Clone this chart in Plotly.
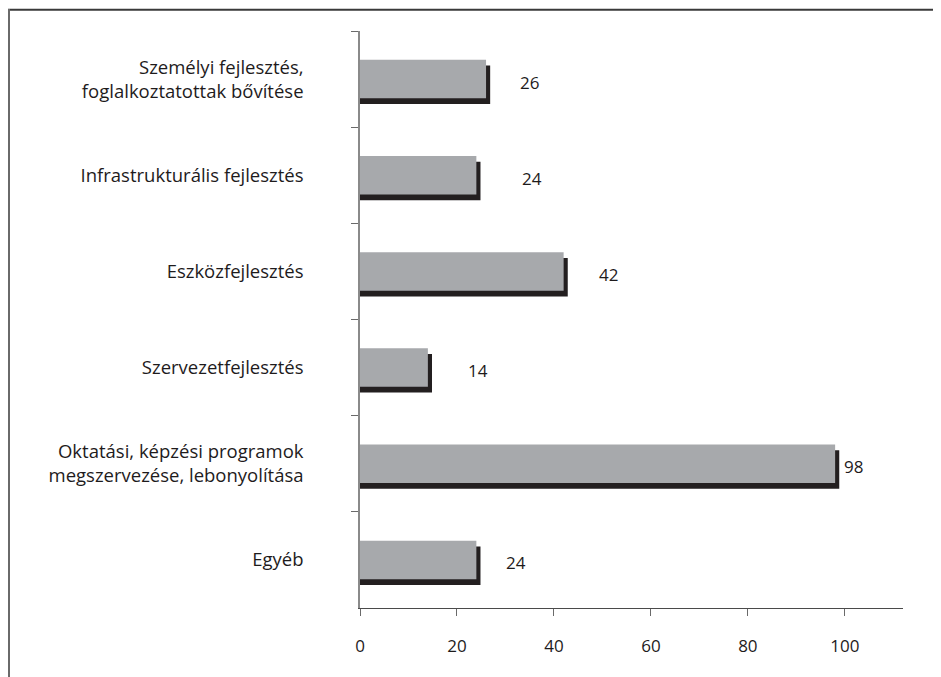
import plotly.graph_objects as go

# kategóriák és értékek
kategoriak = [
    'Személyi fejlesztés,<br>foglalkoztatottak bővítése',
    'Infrastrukturális fejlesztés',
    'Eszközfejlesztés',
    'Szervezetfejlesztés',
    'Oktatási, képzési programok<br>megszervezése, lebonyolítása',
    'Egyéb',
]
ertekek = [26, 24, 42, 14, 98, 24]
tick_ertekek = [0, 20, 40, 60, 80, 100]

FONT = 'Open Sans'
SZURKE = '#a7a9ac'
FEKETE = '#1e1b1c'
arnyek = 0.85  # árnyék eltolás jobbra (adat egység)

fig = go.Figure()

# árnyék (fekete) sávok
fig.add_trace(go.Bar(
    y=kategoriak, x=[v + arnyek for v in ertekek], orientation='h',
    marker=dict(color='#231f20', line=dict(width=0)),
    width=0.4, offset=-0.14, hoverinfo='skip', showlegend=False,
))
# szürke sávok
fig.add_trace(go.Bar(
    y=kategoriak, x=ertekek, orientation='h',
    marker=dict(color=SZURKE, line=dict(width=0)),
    width=0.4, offset=-0.2, showlegend=False,
))

# értékcímkék
cimke_eltolas = [28, 40, 29, 34, 3, 24]
for k, v, s in zip(kategoriak, ertekek, cimke_eltolas):
    fig.add_annotation(
        x=v + arnyek, y=k, text=str(v), showarrow=False,
        xanchor='left', xshift=s, yshift=-3,
        font=dict(family=FONT, size=17, color=FEKETE),
    )

# keret (bal és felső vonal) - a lap bal felső sarkában
fig.add_shape(type='line', xref='paper', yref='paper',
              x0=-352 / 543, x1=1.2, y0=1 + 22 / 600, y1=1 + 22 / 600,
              line=dict(color='#3a3a3a', width=2))
fig.add_shape(type='line', xref='paper', yref='paper',
              x0=-351 / 543, x1=-351 / 543, y0=1 + 23 / 600, y1=-0.3,
              line=dict(color='#6a6a6a', width=2))

fig.update_layout(
    width=941, height=677,
    margin=dict(l=352, r=46, t=23, b=77),
    paper_bgcolor='white', plot_bgcolor='white',
    barmode='overlay',
    font=dict(family=FONT, size=18, color=FEKETE),
    xaxis=dict(
        range=[0, 112], tickvals=tick_ertekek,
        showgrid=False, zeroline=False,
        showline=True, linecolor='#4a4a4a', linewidth=1,
        ticks='outside', ticklen=7, tickcolor='#6a6a6a', tickwidth=1,
        ticklabelstandoff=16,
        tickfont=dict(family=FONT, size=17, color=FEKETE),
    ),
    yaxis=dict(
        autorange='reversed', type='category',
        showgrid=False, zeroline=False,
        showline=True, linecolor='#8a8a8a', linewidth=1.5,
        ticks='outside', ticklen=7, tickcolor='#6a6a6a', tickwidth=1,
        tickson='boundaries', ticklabelstandoff=51,
        tickfont=dict(family=FONT, size=18.5, color=FEKETE),
    ),
)

fig.write_html('out.html')
